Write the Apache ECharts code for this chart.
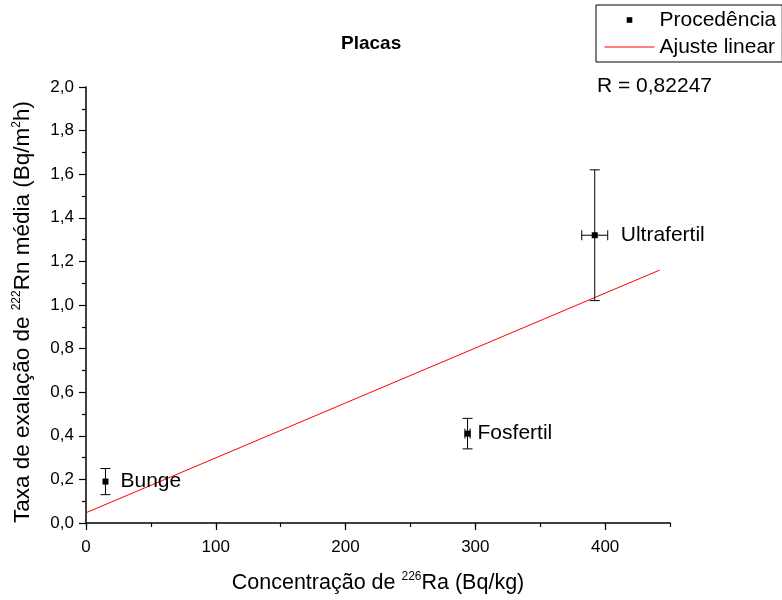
<!DOCTYPE html>
<html>
<head>
<meta charset="utf-8">
<script src="https://cdn.jsdelivr.net/npm/echarts@6/dist/echarts.min.js"></script>
<style>
html,body{margin:0;padding:0;background:#fff;}
#chart{width:782px;height:600px;}
</style>
</head>
<body>
<div id="chart"></div>
<script>
// ---- data ----
const sampleNames = ['Bunge', 'Fosfertil', 'Ultrafertil'];
const raConc = [15, 294, 392];          // Concentração de 226Ra (Bq/kg)
const raConcErr = [0, 2, 10];
const rnRate = [0.19, 0.41, 1.32];      // Taxa de exalação (Bq/m2h)
const rnRateErr = [0.06, 0.07, 0.30];
const fitX = [0, 442];
const fitY = [0.047, 1.16];
const xTickLabels = [0, 100, 200, 300, 400];
const yTickLabels = [0, 0.2, 0.4, 0.6, 0.8, 1.0, 1.2, 1.4, 1.6, 1.8, 2.0];
const rText = 'R = 0,82247';

// ---- chart ----
const FONT = '"Liberation Sans", Arial, sans-serif';
const labelGap = [12, 7, 23];

const pointData = sampleNames.map((n, i) => ({
  name: n,
  value: [raConc[i], rnRate[i]],
  label: { distance: labelGap[i] }
}));
const errData = sampleNames.map((n, i) => [raConc[i], rnRate[i], raConcErr[i], rnRateErr[i]]);
const fitData = fitX.map((x, i) => [x, fitY[i]]);

const chart = echarts.init(document.getElementById('chart'), null, { renderer: 'canvas' });

function renderErr(params, api) {
  const x = api.value(0), y = api.value(1), ex = api.value(2), ey = api.value(3);
  const c = api.coord([x, y]);
  const top = api.coord([x, y + ey]);
  const bot = api.coord([x, y - ey]);
  const cap = 5;
  const style = { stroke: '#000', lineWidth: 1 };
  const children = [
    { type: 'line', shape: { x1: c[0], y1: top[1], x2: c[0], y2: bot[1] }, style },
    { type: 'line', shape: { x1: c[0] - cap, y1: top[1], x2: c[0] + cap, y2: top[1] }, style },
    { type: 'line', shape: { x1: c[0] - cap, y1: bot[1], x2: c[0] + cap, y2: bot[1] }, style }
  ];
  if (ex > 0) {
    const l = api.coord([x - ex, y]);
    const r = api.coord([x + ex, y]);
    children.push(
      { type: 'line', shape: { x1: l[0], y1: c[1], x2: r[0], y2: c[1] }, style },
      { type: 'line', shape: { x1: l[0], y1: c[1] - cap, x2: l[0], y2: c[1] + cap }, style },
      { type: 'line', shape: { x1: r[0], y1: c[1] - cap, x2: r[0], y2: c[1] + cap }, style }
    );
  }
  return { type: 'group', children };
}

const axisLineStyle = { color: '#000', width: 1.5 };
const tickStyle = { color: '#000', width: 1.2 };
const supStyle = { fontSize: 12, verticalAlign: 'top', lineHeight: 12, fontFamily: FONT, color: '#000' };

chart.setOption({
  backgroundColor: '#fff',
  animation: false,
  textStyle: { fontFamily: FONT },
  title: {
    text: 'Placas',
    left: 336, top: 29,
    textStyle: { fontFamily: FONT, fontWeight: 'bold', fontSize: 19, color: '#000' }
  },
  legend: {
    left: 596, top: 5,
    orient: 'vertical',
    padding: [3, 6, 3, 8],
    itemWidth: 50, itemHeight: 7, itemGap: 3,
    borderColor: '#000', borderWidth: 1, borderRadius: 0,
    backgroundColor: '#fff',
    textStyle: { fontFamily: FONT, fontSize: 21, color: '#000', lineHeight: 24 },
    data: [
      { name: 'Procedência', lineStyle: { width: 0 } },
      { name: 'Ajuste linear', itemStyle: { color: 'rgba(0,0,0,0)', opacity: 0 }, lineStyle: { color: '#ff0000', width: 1 } }
    ]
  },
  graphic: [{
    type: 'text', left: 597, top: 76,
    style: { text: rText, font: '21px ' + FONT, fill: '#000' }
  }],
  grid: { left: 86, right: 112, top: 87, bottom: 77, containLabel: false },
  xAxis: [{
    type: 'value', min: 0, max: 450, interval: 50,
    name: 'Concentração de {sup|226}Ra (Bq/kg)',
    nameLocation: 'middle', nameGap: 48,
    nameTextStyle: {
      fontFamily: FONT, fontSize: 21.5, color: '#000', lineHeight: 24,
      rich: { sup: supStyle }
    },
    axisLine: { show: true, lineStyle: axisLineStyle },
    axisTick: { show: true, length: 4, lineStyle: tickStyle },
    axisLabel: {
      margin: 16, fontSize: 17, color: '#000', fontFamily: FONT,
      formatter: v => (xTickLabels.indexOf(v) >= 0 ? String(v) : '')
    },
    splitLine: { show: false }
  }, {
    type: 'value', min: 0, max: 450, interval: 100, position: 'bottom',
    axisLine: { show: false },
    axisTick: { show: true, length: 7, customValues: xTickLabels, lineStyle: tickStyle },
    axisLabel: { show: false },
    splitLine: { show: false }
  }],
  yAxis: {
    type: 'value', min: 0, max: 2, interval: 0.2,
    name: 'Taxa de exalação de {sup|222}Rn média (Bq/m{sup|2}h)',
    nameLocation: 'middle', nameGap: 51,
    nameTextStyle: {
      fontFamily: FONT, fontSize: 22.5, color: '#000', lineHeight: 24,
      padding: [0, 14, 0, 0],
      rich: { sup: supStyle }
    },
    axisLine: { show: true, lineStyle: axisLineStyle },
    axisTick: { show: true, length: 7, lineStyle: tickStyle },
    minorTick: { show: true, splitNumber: 2, length: 4, lineStyle: tickStyle },
    axisLabel: {
      margin: 12, fontSize: 17, color: '#000', fontFamily: FONT,
      formatter: v => v.toFixed(1).replace('.', ',')
    },
    splitLine: { show: false },
    minorSplitLine: { show: false }
  },
  series: [
    {
      name: 'Ajuste linear', type: 'line', xAxisIndex: 0,
      data: fitData, showSymbol: false, symbol: 'none',
      lineStyle: { color: '#ff0000', width: 1 },
      itemStyle: { color: '#ff0000' },
      z: 2
    },
    {
      name: 'Barras de erro', type: 'custom', xAxisIndex: 0,
      data: errData, renderItem: renderErr,
      encode: { x: 0, y: 1 }, z: 3, silent: true
    },
    {
      name: 'Procedência', type: 'line', xAxisIndex: 0,
      data: pointData, symbol: 'rect', symbolSize: 6, showSymbol: true,
      lineStyle: { width: 0, opacity: 0 },
      itemStyle: { color: '#000' },
      label: {
        show: true, position: 'right', formatter: '{b}',
        fontFamily: FONT, fontSize: 21, color: '#000'
      },
      z: 4
    }
  ]
});
</script>
</body>
</html>
